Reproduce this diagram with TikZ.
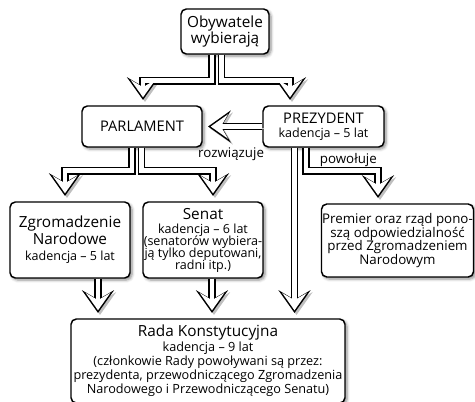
\documentclass[tikz,border=0pt]{standalone}
\usepackage{fontspec}
\setmainfont{Open Sans}
\usetikzlibrary{arrows.meta}
\usetikzlibrary{calc}
\usetikzlibrary{positioning}
\usetikzlibrary{shadows.blur}

\newcommand{\duze}{\fontsize{11.5}{12.5}\selectfont}
\newcommand{\wersaliki}{\fontsize{11}{12.5}\selectfont}
\newcommand{\drobne}{\fontsize{9.4}{9}\selectfont}
\newcommand{\srednie}{\fontsize{10}{10.2}\selectfont}
\newcommand{\opis}{\fontsize{9.5}{10.5}\selectfont}
\lineskiplimit=-10pt

\tikzset{
  box/.style={draw, line width=1.1pt, rounded corners=4pt, fill=white, align=center, inner sep=0.5pt,
    blur shadow={shadow xshift=1.5pt, shadow yshift=-1.5pt, shadow blur steps=5, shadow opacity=45}},
  arr/.style={draw=black, line width=5.7pt, shorten >=4pt,
    -{Stealth[length=17pt, width=24pt, inset=7pt]},
    preaction={draw=black!25, transform canvas={shift={(1.5pt,-1.5pt)}}},
    postaction={draw=white, line width=3.5pt, shorten >=6pt,
      -{Stealth[length=12.9pt, width=18.2pt, inset=5.3pt]}}},
  lbl/.style={inner sep=2pt, font=\srednie}
}

\begin{document}
\begin{tikzpicture}[x=0.75pt, y=-0.75pt]
\useasboundingbox (0,0) rectangle (475,401);

% top
\node (obyw) [box, font=\duze, minimum width=66pt, minimum height=33.75pt] at (225,31.5) {Obywatele\\wybierają};

% parlament and prezydent
\node (parl) [box, font=\wersaliki, minimum width=90pt, minimum height=30.75pt] at (142,126.5) {PARLAMENT};
\node (prez) [box, font=\drobne, minimum width=90.75pt, minimum height=30.75pt] at (323.5,126.5) {\wersaliki PREZYDENT\\[1.5pt]kadencja – 5 lat};

% chambers and government
\node (zgrom) [box, font=\duze, minimum width=90pt, minimum height=57pt] at (70,240) {Zgromadzenie\\Narodowe\\\drobne kadencja – 5 lat};
\node (senat) [box, font=\drobne, minimum width=90pt, minimum height=57pt] at (203,240) {\duze Senat\\[1.5pt]kadencja – 6 lat\\(senatorów wybiera-\\ją tylko deputowani,\\radni itp.)};
\node (prem) [box, font=\srednie, minimum width=113.25pt, minimum height=54.75pt] at (397.5,240.5) {Premier oraz rząd pono-\\szą odpowiedzialność\\przed Zgromadzeniem\\Narodowym};

% constitutional council
\node (rada) [box, font=\opis, minimum width=205.5pt, minimum height=63pt] at (208,361) {\duze Rada Konstytucyjna\\[0.5pt]kadencja – 9 lat\\(członkowie Rady powoływani są przez:\\prezydenta, przewodniczącego Zgromadzenia\\Narodowego i Przewodniczącego Senatu)};

% labels
\node (rozw) [lbl, below left=-2pt and -3.5pt of prez.south west] {rozwiązuje};
\node (powo) [lbl, below right=2.3pt and -4.9pt of prez.south] {powołuje};

% connectors
\draw [arr] ($(obyw.south)+(-13,0)$) -- ++(0,26) -| ($(parl.north)+(1,0)$);
\draw [arr] ($(obyw.south)+(-3.5,0)$) -- ++(0,26) -| ($(prez.north)+(-33.5,0)$);
\draw [arr] (prez.west) -- (parl.east);
\draw [arr] ($(parl.south)+(-10,0)$) -- ++(0,23) -| ($(zgrom.north)+(-5,0)$);
\draw [arr] ($(parl.south)+(-0.5,0)$) -- ++(0,23) -| ($(senat.north)+(10,0)$);
\draw [arr] ($(prez.south)+(-17.5,0)$) -- ++(0,23) -| ($(prem.north)+(-19.5,0)$);
\draw [arr] ($(prez.south)+(-29,0)$) coordinate (pr) -- (pr |- rada.north);
\draw [arr] ($(zgrom.south)+(28,0)$) coordinate (zg) -- (zg |- rada.north);
\draw [arr] ($(senat.south)+(9,0)$) coordinate (se) -- (se |- rada.north);
\end{tikzpicture}
\end{document}
